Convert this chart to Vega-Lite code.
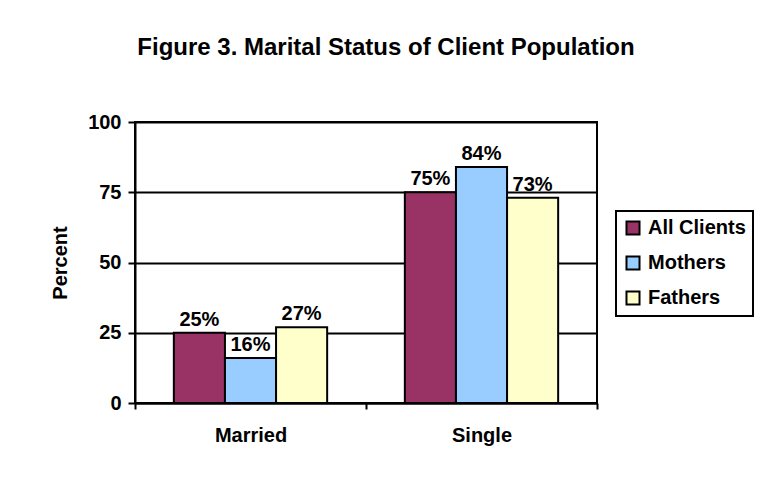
{
  "$schema": "https://vega.github.io/schema/vega-lite/v6.json",
  "autosize": "none",
  "width": 462,
  "height": 281,
  "padding": {"left": 135, "top": 122, "right": 172, "bottom": 81},
  "background": "white",
  "title": {
    "text": "Figure 3. Marital Status of Client Population",
    "font": "Liberation Sans",
    "fontSize": 24,
    "fontWeight": "bold",
    "color": "black",
    "anchor": "middle",
    "baseline": "alphabetic",
    "dx": 20,
    "offset": 33
  },
  "data": {
    "values": [
      {"status": "Married", "group": "All Clients", "value": 25, "label": "25%"},
      {"status": "Married", "group": "Mothers", "value": 16, "label": "16%"},
      {"status": "Married", "group": "Fathers", "value": 27, "label": "27%"},
      {"status": "Single", "group": "All Clients", "value": 75, "label": "75%"},
      {"status": "Single", "group": "Mothers", "value": 84, "label": "84%"},
      {"status": "Single", "group": "Fathers", "value": 73, "label": "73%"}
    ]
  },
  "encoding": {
    "x": {
      "field": "status",
      "type": "nominal",
      "scale": {"paddingInner": 0, "paddingOuter": 0},
      "axis": {
        "title": null,
        "labelAngle": 0,
        "tickBand": "extent",
        "labelFont": "Liberation Sans",
        "labelFontSize": 20,
        "labelFontWeight": "bold",
        "labelColor": "black",
        "labelPadding": 16,
        "tickColor": "black",
        "tickSize": 6,
        "tickWidth": 2,
        "domainColor": "black",
        "domainWidth": 2,
        "grid": false
      }
    },
    "xOffset": {
      "field": "group",
      "type": "nominal",
      "sort": ["All Clients", "Mothers", "Fathers"],
      "scale": {"paddingInner": 0, "paddingOuter": 0.76}
    },
    "y": {
      "field": "value",
      "type": "quantitative",
      "scale": {"domain": [0, 100]},
      "axis": {
        "title": "Percent",
        "titleFont": "Liberation Sans",
        "titleFontSize": 20,
        "titleFontWeight": "bold",
        "titleColor": "black",
        "titlePadding": 17,
        "values": [0, 25, 50, 75, 100],
        "labelFont": "Liberation Sans",
        "labelFontSize": 20,
        "labelFontWeight": "bold",
        "labelColor": "black",
        "labelPadding": 7,
        "tickColor": "black",
        "tickSize": 7,
        "tickWidth": 2,
        "domainColor": "black",
        "domainWidth": 2,
        "grid": true,
        "gridColor": "black",
        "gridWidth": 2,
        "gridOpacity": 1
      }
    }
  },
  "layer": [
    {
      "mark": {"type": "bar", "stroke": "black", "strokeWidth": 2},
      "encoding": {
        "color": {
          "field": "group",
          "type": "nominal",
          "sort": ["All Clients", "Mothers", "Fathers"],
          "scale": {
            "domain": ["All Clients", "Mothers", "Fathers"],
            "range": ["#993366", "#99CCFF", "#FFFFCC"]
          },
          "legend": {
            "title": null,
            "orient": "none",
            "legendX": 481,
            "legendY": 89,
            "symbolType": "square",
            "symbolSize": 170,
            "symbolStrokeColor": "black",
            "symbolStrokeWidth": 2,
            "symbolOpacity": 1,
            "labelFont": "Liberation Sans",
            "labelFontSize": 20,
            "labelFontWeight": "bold",
            "labelColor": "black",
            "labelOffset": 5,
            "rowPadding": 13,
            "padding": 7,
            "strokeColor": "black",
            "fillColor": "white"
          }
        }
      }
    },
    {
      "mark": {
        "type": "text",
        "baseline": "alphabetic",
        "dy": -7,
        "font": "Liberation Sans",
        "fontSize": 20,
        "fontWeight": "bold",
        "color": "black"
      },
      "encoding": {
        "text": {"field": "label", "type": "nominal"},
        "detail": {"field": "group"}
      }
    }
  ],
  "config": {
    "view": {"stroke": "black", "strokeWidth": 2},
    "legend": {"strokeWidth": 2}
  }
}
